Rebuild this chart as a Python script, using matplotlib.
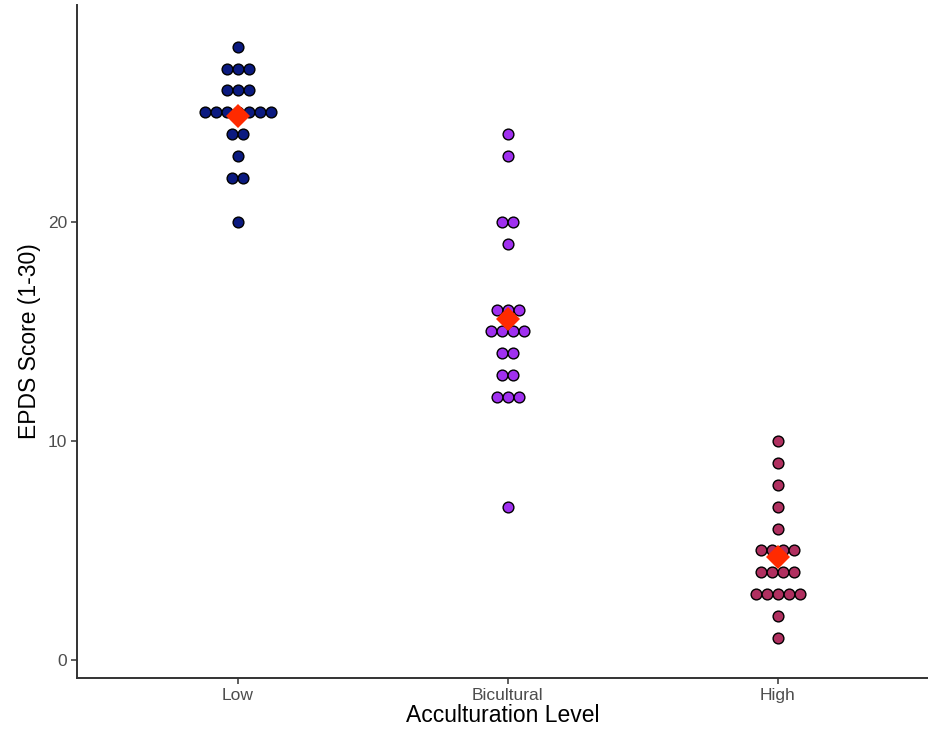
import numpy as np
import matplotlib
matplotlib.use("Agg")
from matplotlib import pyplot as plt

plt.rcParams['font.family'] = ['Liberation Sans', 'DejaVu Sans']

groups = ["Low", "Bicultural", "High"]
colors = ["#0b1a80", "#a030f0", "#b03060"]

# EPDS scores per group
low_scores = [28, 27, 27, 27, 26, 26, 26, 25, 25, 25, 25, 25, 25, 25,
              24, 24, 23, 22, 22, 20]
bicultural_scores = [24, 23, 20, 20, 19, 16, 16, 16, 15, 15, 15, 15,
                     14, 14, 13, 13, 12, 12, 12, 7]
high_scores = [10, 9, 8, 7, 6, 5, 5, 5, 5, 4, 4, 4, 4, 3, 3, 3, 3, 3, 2, 1]

scores = [low_scores, bicultural_scores, high_scores]

fig = plt.figure(figsize=(9.29, 7.38), dpi=100)
ax = fig.add_axes([77/929, 60/738, 852/929, 673/738])

step = 0.0407  # horizontal spacing between stacked dots
for i, (vals, col) in enumerate(zip(scores, colors)):
    pos = i + 1
    xs, ys = [], []
    for v in sorted(set(vals)):
        n = vals.count(v)
        offs = (np.arange(n) - (n - 1) / 2) * step
        xs.extend(pos + offs)
        ys.extend([v] * n)
    ax.scatter(xs, ys, s=60, c=col, edgecolors='black', linewidths=1.0, zorder=3)
    ax.plot(pos, np.mean(vals), marker='D', ms=12.5, color='#ff2a00',
            markeredgewidth=0, zorder=4)

ax.set_xlim(0.404, 3.56)
ax.set_ylim(-0.82, 29.9)
ax.set_xticks([1, 2, 3])
ax.set_xticklabels(groups)
ax.set_yticks([0, 10, 20])

for s in ['top', 'right']:
    ax.spines[s].set_visible(False)
for s in ['left', 'bottom']:
    ax.spines[s].set_color('#333333')
    ax.spines[s].set_linewidth(1.4)

ax.tick_params(colors='#333333', labelcolor='#4d4d4d', labelsize=12.5,
               length=4, width=1.1, pad=3)
ax.set_xlabel("Acculturation Level", fontsize=16.5, labelpad=1)
ax.set_ylabel("EPDS Score (1-30)", fontsize=16.5, labelpad=5)

fig.savefig("out.png", dpi=100)
